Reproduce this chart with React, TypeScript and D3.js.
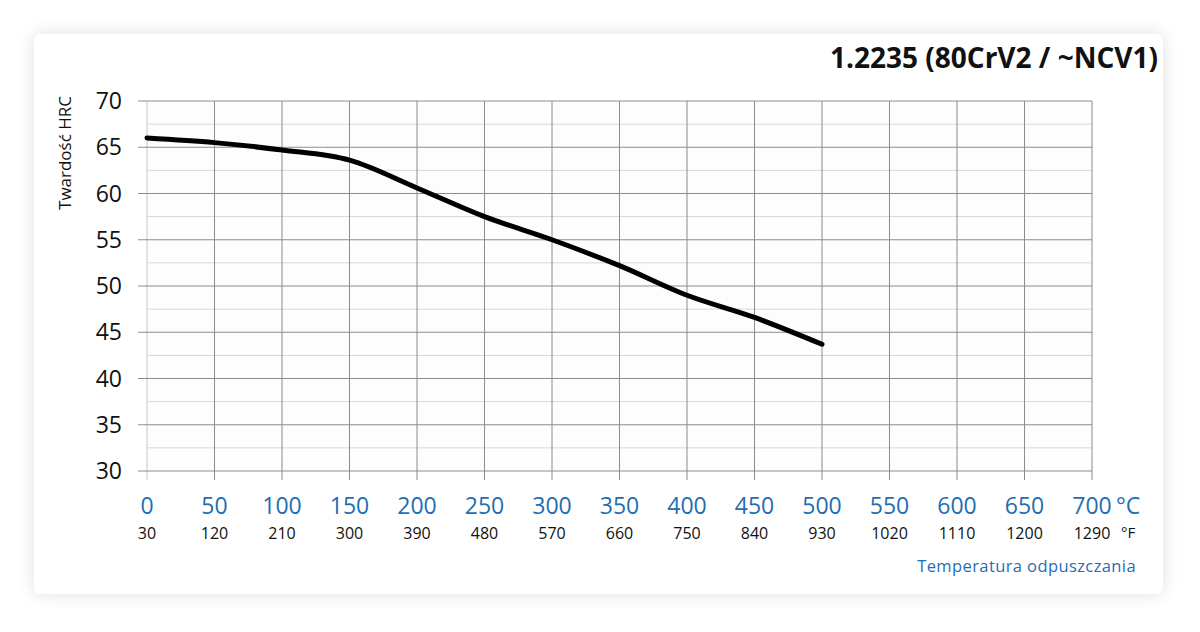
import React from "react";
import * as d3 from "d3";

const tempsC = [0, 50, 100, 150, 200, 250, 300, 350, 400, 450, 500];
const hardness = [66.0, 65.5, 64.7, 63.6, 60.6, 57.5, 55.0, 52.2, 49.0, 46.6, 43.7];
const xTicksC = [0, 50, 100, 150, 200, 250, 300, 350, 400, 450, 500, 550, 600, 650, 700];
const xTicksF = [30, 120, 210, 300, 390, 480, 570, 660, 750, 840, 930, 1020, 1110, 1200, 1290];
const yTicks = [30, 35, 40, 45, 50, 55, 60, 65, 70];
const yMinor = [32.5, 37.5, 42.5, 47.5, 52.5, 57.5, 62.5, 67.5];
const title = "1.2235 (80CrV2 / ~NCV1)";
const yLabel = "Twardość HRC";
const xLabel = "Temperatura odpuszczania";

export default function App() {
  const W = 1200, H = 632;
  const left = 147, right = 1092, top = 101, bottom = 471;
  const x = d3.scaleLinear().domain([0, 700]).range([left, right]);
  const y = d3.scaleLinear().domain([30, 70]).range([bottom, top]);
  const line = d3
    .line<number>()
    .x((_, i) => x(tempsC[i]))
    .y((d) => y(d))
    .curve(d3.curveMonotoneX);
  const font = "'Open Sans', 'DejaVu Sans', sans-serif";
  const blue = "#1f6db3";
  return (
    <svg
      width={W}
      height={H}
      style={{ position: "fixed", left: 0, top: 0, display: "block", background: "#ffffff" }}
      fontFamily={font}
    >
      <defs>
        <filter id="sh" x="-5%" y="-5%" width="110%" height="110%">
          <feGaussianBlur in="SourceAlpha" stdDeviation="9" />
          <feComponentTransfer>
            <feFuncA type="linear" slope="0.13" />
          </feComponentTransfer>
          <feMerge>
            <feMergeNode />
            <feMergeNode in="SourceGraphic" />
          </feMerge>
        </filter>
      </defs>
      <rect x={34} y={34} width={1129} height={560} rx={7} fill="#ffffff" filter="url(#sh)" />
      <rect x={left} y={top} width={right - left} height={bottom - top} fill="#fdfdfd" />
      {yMinor.map((v) => (
        <line key={"m" + v} x1={left} x2={right} y1={y(v)} y2={y(v)} stroke="#d6d6d6" strokeWidth={1} />
      ))}
      {xTicksC.map((v) => (
        <line
          key={"v" + v}
          x1={x(v)}
          x2={x(v)}
          y1={top}
          y2={bottom + 9}
          stroke={v === 0 ? "#c8c8c8" : "#8c8c8c"}
          strokeWidth={1}
        />
      ))}
      {yTicks.map((v) => (
        <line key={"h" + v} x1={left - 9} x2={right} y1={y(v)} y2={y(v)} stroke="#8c8c8c" strokeWidth={1} />
      ))}
      <path d={line(hardness) || ""} fill="none" stroke="#000" strokeWidth={5} strokeLinecap="round" />
      {yTicks.map((v) => (
        <text key={"yl" + v} x={122} y={y(v) + 8} textAnchor="end" fontSize={23} fill="#111">
          {v}
        </text>
      ))}
      {xTicksC.map((v) => (
        <text key={"xc" + v} x={x(v)} y={514} textAnchor="middle" fontSize={23} fill={blue}>
          {v}
        </text>
      ))}
      <text x={1116} y={514} fontSize={23} fill={blue}>°C</text>
      {xTicksF.map((v, i) => (
        <text key={"xf" + v} x={x(xTicksC[i])} y={539} textAnchor="middle" fontSize={16} fill="#111">
          {v}
        </text>
      ))}
      <text x={1121} y={538} fontSize={15} fill="#111">°F</text>
      <text x={1136} y={572} textAnchor="end" fontSize={16.5} fill={blue} letterSpacing={0.4}>
        {xLabel}
      </text>
      <text
        transform={`translate(71,153) rotate(-90)`}
        textAnchor="middle"
        fontSize={17}
        fill="#111"
      >
        {yLabel}
      </text>
      <text x={1158} y={68} textAnchor="end" fontSize={28} fontWeight="bold" fill="#111">
        {title}
      </text>
    </svg>
  );
}
